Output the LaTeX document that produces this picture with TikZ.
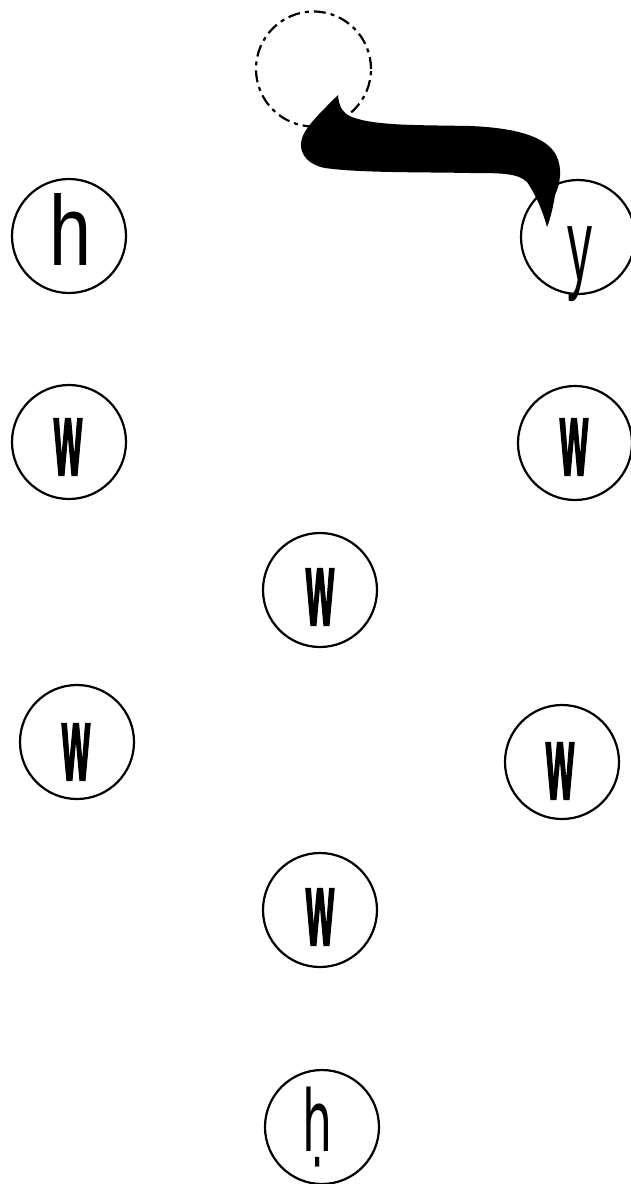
\documentclass[tikz,border=0pt]{standalone}
\usepackage{fontspec}
\setmainfont{Liberation Sans}
\newfontfamily\dvfont{DejaVu Sans}
\newfontfamily\wfont[BoldFeatures={FakeBold=3}]{Liberation Sans}
\newcommand{\wglyph}{\resizebox{28pt}{55pt}{\wfont\bfseries w}}
\tikzset{
  state/.style={circle,draw,line width=2.2pt,minimum size=114pt,inner sep=0pt},
  ghost/.style={circle,draw,line width=2.2pt,minimum size=115pt,inner sep=0pt,dash pattern=on 12pt off 5pt on 4pt off 5pt},
  glyph/.style={inner sep=0pt,outer sep=0pt}
}
\begin{document}
\begin{tikzpicture}[x=1pt,y=-1pt]
\useasboundingbox (0,0) rectangle (631,1184);
% circles
\node[ghost] (g) at (313.5,69) {};
\node[state] (h) at (69,236) {};
\node[state] (y) at (578,237) {};
\node[state] (w1) at (69,442) {};
\node[state] (w2) at (575,443) {};
\node[state] (w3) at (320,590) {};
\node[state] (w4) at (77,742) {};
\node[state] (w5) at (562,762) {};
\node[state] (w6) at (320,910) {};
\node[state] (hd) at (322,1127) {};
% labels
\node[glyph] (th) at (71,229) {\resizebox{42pt}{72pt}{h}};
\node[glyph] (ty) at (579.5,264.5) {\resizebox*{25pt}{75pt}{y}};
\node[glyph] (tw1) at (68,447) {\wglyph};
\node[glyph] (tw2) at (574,447) {\wglyph};
\node[glyph] (tw3) at (320,597) {\wglyph};
\node[glyph] (tw4) at (76,752) {\wglyph};
\node[glyph] (tw5) at (560,771) {\wglyph};
\node[glyph] (tw6) at (320,917) {\wglyph};
\node[glyph] (thd) at (317.5,1127) {\resizebox*{30pt}{80pt}{\dvfont ḥ}};
% thick arrow
\coordinate (a1) at (338,95);
\coordinate (a2) at (547,227);
\fill (a1) .. controls (339,106) and (342,113) .. (352,117)
  .. controls (375,126) and (420,125) .. (470,126)
  .. controls (520,128) and (547,138) .. (556,155)
  .. controls (563,168) and (560,185) .. (555,195)
  .. controls (553,208) and (550,220) .. (a2)
  .. controls (543,212) and (536,195) .. (527,182)
  .. controls (518,173) and (500,173) .. (470,173)
  .. controls (420,172) and (360,173) .. (325,168)
  .. controls (309,165) and (300,155) .. (301,143)
  .. controls (302,130) and (318,115) .. (a1) -- cycle;
\end{tikzpicture}
\end{document}
